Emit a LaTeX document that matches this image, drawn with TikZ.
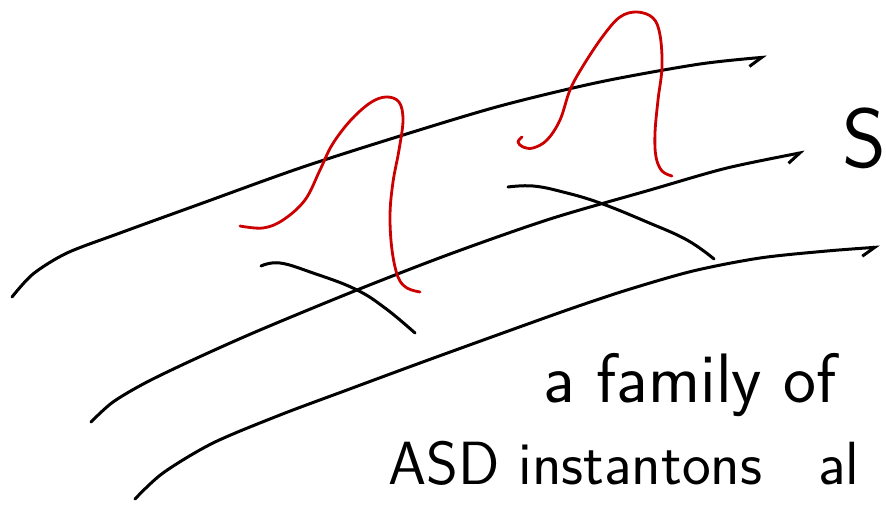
\documentclass[tikz,border=0pt]{standalone}
\usepackage{xcolor}
\usepackage{tikz}
\usetikzlibrary{arrows.meta}
\definecolor{inkred}{RGB}{204,0,0}
\tikzset{
  ink/.style    = {line width=3pt, line cap=round, line join=round},
  slice/.style  = {ink, -{Straight Barb[right, length=13pt, width=16pt]}},
  bump/.style   = {ink, draw=inkred, line width=2.8pt},
  cross/.style  = {ink},
  hand/.style   = {inner sep=0pt, anchor=base west, font=\sffamily}
}

\begin{document}
\begin{tikzpicture}[x=1pt, y=-1pt]
  \useasboundingbox (0,0) rectangle (886,505);
  \clip (0,0) rectangle (886,505);

  \draw[slice] plot[smooth, tension=0.5] coordinates {(12,297) (33,274) (67,253) (120,233)
    (200,204) (300,168) (400,136) (500,106) (600,82) (700,64) (767,57)};
  \draw[slice] plot[smooth, tension=0.5] coordinates {(91,422) (113,402) (147,382) (197,358)
    (260,330) (357,290) (450,254) (550,219) (650,190) (727,168) (805,152)};
  \draw[slice] plot[smooth, tension=0.5] coordinates {(135,499) (163,473) (213,443) (280,415)
    (347,390) (420,363) (500,334) (570,309) (627,290) (693,271) (760,258) (827,251) (880,247)};

  \draw[cross] plot[smooth, tension=0.7] coordinates {(261,266) (280,263) (313,273) (355,289)
    (385,308) (415,333)};
  \draw[cross] plot[smooth, tension=0.7] coordinates {(508,187) (533,186) (563,192) (600,203)
    (647,222) (687,240) (714,259)};

  \draw[bump] plot[smooth, tension=0.6] coordinates {(240,226) (263,228) (283,220) (305,200)
    (320,170) (332,145) (350,121) (370,103) (386,97) (399,102) (403,120) (399,150) (393,182)
    (390,215) (392,250) (398,277) (407,288) (420,292)};
  \draw[bump] plot[smooth, tension=0.6] coordinates {(522,137) (518,142) (523,147) (533,148)
    (547,140) (560,120) (570,90) (583,66) (603,36) (620,17) (637,12) (653,18) (660,35)
    (662,67) (658,100) (655,133) (656,157) (662,171) (672,176)};

  \node[hand, font=\sffamily\fontsize{84}{86}\selectfont] (space) at (842,168) {S};
  \node[hand, font=\sffamily\fontsize{70}{72}\selectfont] (family) at (543,402) {a family of};
  \node[hand, font=\sffamily\fontsize{61}{63}\selectfont] (asd) at (388,484)
    {ASD instantons\hspace{56pt}al};
\end{tikzpicture}
\end{document}
